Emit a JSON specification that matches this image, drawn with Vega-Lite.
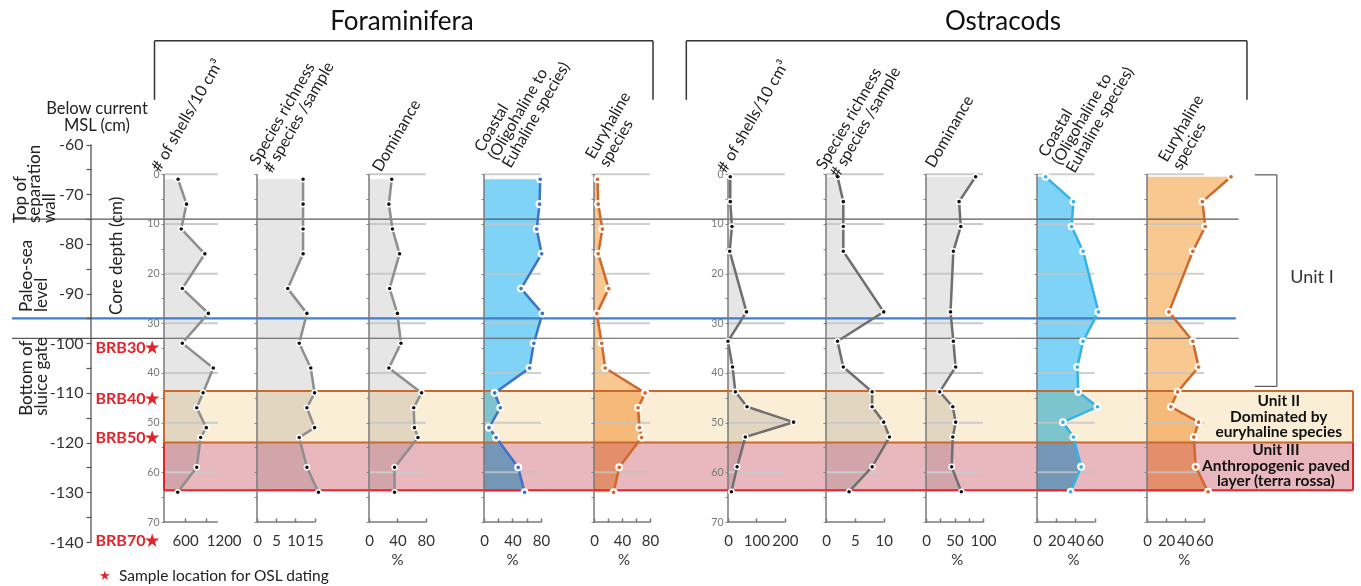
{
  "$schema": "https://vega.github.io/schema/vega-lite/v6.json",
  "padding": {"left": 10, "top": 0, "right": 0, "bottom": 0},
  "spacing": 0,
  "bounds": "flush",
  "background": "white",
  "config": {"view": {"stroke": null}, "font": "Lato"},
  "datasets": {
    "foram": [
      {"depth": 1, "shells": 400, "richness": 12, "dominance": 32, "coastal": 79, "euryhaline": 5},
      {"depth": 6, "shells": 640, "richness": 12, "dominance": 28, "coastal": 78, "euryhaline": 6},
      {"depth": 11, "shells": 490, "richness": 12, "dominance": 33, "coastal": 74, "euryhaline": 12},
      {"depth": 16, "shells": 1160, "richness": 12, "dominance": 43, "coastal": 81, "euryhaline": 6},
      {"depth": 23, "shells": 520, "richness": 8, "dominance": 29, "coastal": 52, "euryhaline": 21},
      {"depth": 28, "shells": 1260, "richness": 13, "dominance": 40, "coastal": 82, "euryhaline": 4},
      {"depth": 34, "shells": 520, "richness": 11, "dominance": 45, "coastal": 70, "euryhaline": 11},
      {"depth": 39, "shells": 1400, "richness": 14, "dominance": 28, "coastal": 64, "euryhaline": 16},
      {"depth": 44, "shells": 1110, "richness": 15, "dominance": 74, "coastal": 15, "euryhaline": 73},
      {"depth": 47, "shells": 930, "richness": 13, "dominance": 63, "coastal": 23, "euryhaline": 63},
      {"depth": 51, "shells": 1200, "richness": 15, "dominance": 64, "coastal": 7, "euryhaline": 65},
      {"depth": 53, "shells": 1040, "richness": 11, "dominance": 69, "coastal": 17, "euryhaline": 68},
      {"depth": 59, "shells": 930, "richness": 13, "dominance": 36, "coastal": 48, "euryhaline": 36},
      {"depth": 64, "shells": 390, "richness": 16, "dominance": 36, "coastal": 57, "euryhaline": 28}
    ],
    "ostracod": [
      {"depth": 0.5, "shells": 8, "richness": 2, "dominance": 87, "coastal": 9, "euryhaline": 88},
      {"depth": 5.5, "shells": 8, "richness": 3, "dominance": 58, "coastal": 38, "euryhaline": 58},
      {"depth": 10.5, "shells": 14, "richness": 3, "dominance": 61, "coastal": 36, "euryhaline": 61},
      {"depth": 15.5, "shells": 6, "richness": 3, "dominance": 48, "coastal": 48, "euryhaline": 48},
      {"depth": 27.7, "shells": 65, "richness": 10, "dominance": 43, "coastal": 64, "euryhaline": 23},
      {"depth": 33.6, "shells": 0, "richness": 2, "dominance": 48, "coastal": 48, "euryhaline": 48},
      {"depth": 38.8, "shells": 16, "richness": 3, "dominance": 52, "coastal": 42, "euryhaline": 54},
      {"depth": 43.8, "shells": 26, "richness": 8, "dominance": 24, "coastal": 43, "euryhaline": 32},
      {"depth": 46.8, "shells": 67, "richness": 8, "dominance": 47, "coastal": 63, "euryhaline": 25},
      {"depth": 49.9, "shells": 231, "richness": 10, "dominance": 52, "coastal": 27, "euryhaline": 54},
      {"depth": 52.9, "shells": 61, "richness": 11, "dominance": 47, "coastal": 38, "euryhaline": 49},
      {"depth": 58.9, "shells": 32, "richness": 8, "dominance": 45, "coastal": 46, "euryhaline": 51},
      {"depth": 63.9, "shells": 12, "richness": 4, "dominance": 62, "coastal": 35, "euryhaline": 64}
    ],
    "grid": [{"g": 0}, {"g": 10}, {"g": 20}, {"g": 30}, {"g": 40}, {"g": 50}, {"g": 60}],
    "levels": [
      {"name": "wall", "msl": -75, "depth": 9},
      {"name": "sea", "msl": -95, "depth": 29},
      {"name": "gate", "msl": -99, "depth": 33}
    ],
    "units": [
      {"unit": "II", "top": 43.6, "bottom": 54.0},
      {"unit": "III", "top": 54.0, "bottom": 63.6}
    ],
    "osl": [
      {"label": "BRB30★", "msl": -101},
      {"label": "BRB40★", "msl": -111.3},
      {"label": "BRB50★", "msl": -119},
      {"label": "BRB70★", "msl": -139.8}
    ]
  },
  "hconcat": [
    {
      "width": 79, "height": 542,
      "layer": [
        {"data": {"name": "levels"}, "mark": {"type": "rule"},
         "encoding": {"y": {"field": "msl", "type": "quantitative", "scale": {"domain": [-140, -30.9], "nice": false, "zero": false}, "axis": null},
           "color": {"condition": {"test": "datum.name === 'sea'", "value": "#3f7fcf"}, "value": "#5a5a5a"},
           "strokeWidth": {"condition": {"test": "datum.name === 'sea'", "value": 2.2}, "value": 1.2}}},
        {"data": {"values": [{}]}, "mark": {"type": "text", "text": "Top of\nseparation\nwall", "lineBreak": "\n", "angle": 270, "align": "left", "baseline": "middle", "fontSize": 17, "lineHeight": 14.5, "color": "#222"},
         "encoding": {"x": {"datum": 0.108, "scale": {"domain": [0, 1]}, "axis": null}, "y": {"datum": -75.8, "axis": null}}},
        {"data": {"values": [{}]}, "mark": {"type": "text", "text": "Paleo-sea\nlevel", "lineBreak": "\n", "angle": 270, "align": "left", "baseline": "middle", "fontSize": 17, "lineHeight": 14.5, "color": "#222"},
         "encoding": {"x": {"datum": 0.196, "axis": null}, "y": {"datum": -93.7, "axis": null}}},
        {"data": {"values": [{}]}, "mark": {"type": "text", "text": "Bottom of\nsluice gate", "lineBreak": "\n", "angle": 270, "align": "left", "baseline": "middle", "fontSize": 17, "lineHeight": 14.5, "color": "#222"},
         "encoding": {"x": {"datum": 0.196, "axis": null}, "y": {"datum": -114.6, "axis": null}}}
      ]
    },
    {
      "width": 73, "height": 542,
      "resolve": {"axis": {"x": "independent", "y": "independent"}},
      "layer": [
        {"data": {"name": "levels"}, "mark": {"type": "rule"},
         "encoding": {"y": {"field": "msl", "type": "quantitative", "scale": {"domain": [-140, -30.9], "nice": false, "zero": false},
             "axis": {"values": [-60, -65, -70, -75, -80, -85, -90, -95, -100, -105, -110, -115, -120, -125, -130, -135, -140], "labelExpr": "datum.value % 10 === 0 ? '' + datum.value : ''", "domain": false, "grid": false, "tickSize": 5, "tickColor": "#555", "tickWidth": 1.2, "labelFontSize": 16, "labelColor": "#333", "labelPadding": 3, "title": null}},
           "color": {"condition": {"test": "datum.name === 'sea'", "value": "#3f7fcf"}, "value": "#5a5a5a"},
           "strokeWidth": {"condition": {"test": "datum.name === 'sea'", "value": 2.2}, "value": 1.2}}},
        {"data": {"values": [{}]}, "mark": {"type": "rule", "color": "#555", "strokeWidth": 1.3},
         "encoding": {"x": {"datum": 0, "scale": {"domain": [0, 1]}, "axis": null}, "y": {"datum": -60, "axis": null}, "y2": {"datum": -140}}},
        {"data": {"values": [{}]}, "mark": {"type": "text", "text": "Below current\nMSL (cm)", "lineBreak": "\n", "align": "center", "baseline": "middle", "fontSize": 16.5, "lineHeight": 17.5, "color": "#222"},
         "encoding": {"x": {"datum": 0.082, "axis": null}, "y": {"datum": -52.8, "axis": null}}},
        {"data": {"values": [{}]}, "mark": {"type": "text", "text": "Core depth (cm)", "angle": 270, "align": "center", "baseline": "middle", "fontSize": 17, "color": "#222"},
         "encoding": {"x": {"datum": 0.356, "axis": null}, "y": {"datum": -82.4, "axis": null}}},
        {"data": {"name": "osl"}, "mark": {"type": "text", "fontSize": 16, "fontWeight": "bold", "color": "#e3232a", "align": "center", "baseline": "middle"},
         "encoding": {"y": {"field": "msl", "type": "quantitative", "axis": null}, "text": {"field": "label", "type": "nominal"}}},
        {"data": {"values": [{}]}, "mark": {"type": "text", "text": "★", "align": "center", "baseline": "middle", "fontSize": 13, "color": "#e3232a"},
         "encoding": {"x": {"datum": 0.19, "axis": null}, "y": {"datum": -146.8, "axis": null}}},
        {"data": {"values": [{}]}, "mark": {"type": "text", "text": "Sample location for OSL dating", "align": "left", "baseline": "middle", "fontSize": 15.5, "color": "#222"},
         "encoding": {"x": {"datum": 0.384, "axis": null}, "y": {"datum": -146.8, "axis": null}}}
      ]
    },
    {
      "width": 93, "height": 522,
      "resolve": {"axis": {"x": "independent", "y": "independent"}},
      "layer": [
        {"data": {"name": "foram"}, "mark": {"type": "area", "orient": "horizontal", "color": "#e6e6e6", "opacity": 1},
         "encoding": {
           "x": {"field": "shells", "type": "quantitative", "stack": null, "scale": {"domain": [0, 2642], "nice": false, "zero": true},
             "axis": {"values": [600, 1200], "format": "d", "labelAlign": {"condition": {"test": "datum.value === 1200", "value": "left"}, "value": "center"}, "domain": false, "grid": false, "tickSize": -4, "tickColor": "#777", "tickWidth": 1.5, "labelPadding": 15, "labelFontSize": 15, "labelColor": "#333", "labelFlush": false, "labelOverlap": false, "title": null}},
           "y": {"field": "depth", "type": "quantitative", "scale": {"domain": [-35.1, 70], "reverse": true, "nice": false, "zero": false},
             "axis": {"values": [0, 5, 10, 15, 20, 25, 30, 35, 40, 45, 50, 55, 60, 65, 70], "labelExpr": "datum.value % 10 === 0 ? datum.label : ''", "labelFontSize": 10.5, "labelColor": "#777", "labelPadding": 2, "domain": false, "grid": false, "tickSize": 3, "tickColor": "#888", "title": null}}}},
        {"data": {"name": "units"}, "mark": {"type": "rect", "blend": "multiply", "opacity": 1},
         "encoding": {"y": {"field": "top", "type": "quantitative", "axis": null}, "y2": {"field": "bottom"}, "fill": {"condition": {"test": "datum.unit === 'II'", "value": "#fbeed6"}, "value": "#e9b7be"}}},
        {"data": {"name": "grid"}, "mark": {"type": "rule", "color": "#cacaca", "strokeWidth": 2},
         "encoding": {"x": {"datum": 0, "axis": null}, "x2": {"datum": 1530}, "y": {"field": "g", "type": "quantitative", "axis": null}}},
        {"data": {"name": "levels"}, "mark": {"type": "rule"},
         "encoding": {"y": {"field": "depth", "type": "quantitative", "axis": null}, "color": {"condition": {"test": "datum.name === 'sea'", "value": "#3f7fcf"}, "value": "#5a5a5a"}, "strokeWidth": {"condition": {"test": "datum.name === 'sea'", "value": 2.2}, "value": 1.2}}},
        {"data": {"values": [{}]}, "mark": {"type": "rule", "color": "#7a7a7a", "strokeWidth": 1.5},
         "encoding": {"x": {"datum": 0, "axis": null}, "y": {"datum": 0, "axis": null}, "y2": {"datum": 70}}},
        {"data": {"values": [{}]}, "mark": {"type": "rule", "color": "#7a7a7a", "strokeWidth": 1.5},
         "encoding": {"x": {"datum": 0, "axis": null}, "x2": {"datum": 1530}, "y": {"datum": 70, "axis": null}}},
        {"data": {"name": "units"}, "mark": {"type": "rule", "strokeWidth": 2},
         "encoding": {"x": {"datum": 0, "axis": null}, "y": {"field": "top", "type": "quantitative", "axis": null}, "y2": {"field": "bottom"}, "color": {"condition": {"test": "datum.unit === 'II'", "value": "#c8692e"}, "value": "#e2252b"}}},
        {"data": {"name": "units"}, "mark": {"type": "rule", "color": "#c8692e", "strokeWidth": 2},
         "encoding": {"y": {"field": "top", "type": "quantitative", "axis": null}}},
        {"data": {"name": "units"}, "transform": [{"filter": "datum.unit === 'III'"}], "mark": {"type": "rule", "color": "#e2252b", "strokeWidth": 2},
         "encoding": {"y": {"field": "bottom", "type": "quantitative", "axis": null}}},
        {"data": {"name": "foram"}, "mark": {"type": "line", "color": "#8e8e8e", "strokeWidth": 2.5},
         "encoding": {"x": {"field": "shells", "type": "quantitative", "axis": null}, "y": {"field": "depth", "type": "quantitative", "axis": null}, "order": {"field": "depth", "type": "quantitative"}}},
        {"data": {"name": "foram"}, "mark": {"type": "circle", "fill": "#111", "stroke": "#ffffff", "strokeWidth": 1.5, "size": 26, "opacity": 1},
         "encoding": {"x": {"field": "shells", "type": "quantitative", "axis": null}, "y": {"field": "depth", "type": "quantitative", "axis": null}}},
        {"data": {"values": [{}]}, "mark": {"type": "text", "text": "# of shells/10 cm³", "angle": 300, "align": "left", "baseline": "alphabetic", "fontSize": 16, "color": "#222"},
         "encoding": {"x": {"datum": -114, "axis": null}, "y": {"datum": -0.3, "axis": null}}},
        {"data": {"values": [{}]}, "mark": {"type": "rule", "color": "#333", "strokeWidth": 1.5},
         "encoding": {"x": {"datum": -270, "axis": null}, "x2": {"datum": 13892}, "y": {"datum": -26.9, "axis": null}}},
        {"data": {"values": [{}]}, "mark": {"type": "rule", "color": "#333", "strokeWidth": 1.5},
         "encoding": {"x": {"datum": -270, "axis": null}, "y": {"datum": -26.9, "axis": null}, "y2": {"datum": -15}}},
        {"data": {"values": [{}]}, "mark": {"type": "rule", "color": "#333", "strokeWidth": 1.5},
         "encoding": {"x": {"datum": 13892, "axis": null}, "y": {"datum": -26.9, "axis": null}, "y2": {"datum": -15}}}
      ]
    },
    {
      "width": 112, "height": 522,
      "resolve": {"axis": {"x": "independent", "y": "independent"}},
      "layer": [
        {"data": {"name": "foram"}, "mark": {"type": "area", "orient": "horizontal", "color": "#e6e6e6", "opacity": 1},
         "encoding": {
           "x": {"field": "richness", "type": "quantitative", "stack": null, "scale": {"domain": [0, 29.17], "nice": false, "zero": true},
             "axis": {"values": [0, 5, 10, 15], "domain": false, "grid": false, "tickSize": -4, "tickColor": "#777", "tickWidth": 1.5, "labelPadding": 15, "labelFontSize": 15, "labelColor": "#333", "labelFlush": false, "labelOverlap": false, "title": null}},
           "y": {"field": "depth", "type": "quantitative", "scale": {"domain": [-35.1, 70], "reverse": true, "nice": false, "zero": false},
             "axis": {"values": [0, 5, 10, 15, 20, 25, 30, 35, 40, 45, 50, 55, 60, 65, 70], "labels": false, "domain": false, "grid": false, "tickSize": 3, "tickColor": "#888", "title": null}}}},
        {"data": {"name": "units"}, "mark": {"type": "rect", "blend": "multiply", "opacity": 1},
         "encoding": {"y": {"field": "top", "type": "quantitative", "axis": null}, "y2": {"field": "bottom"}, "fill": {"condition": {"test": "datum.unit === 'II'", "value": "#fbeed6"}, "value": "#e9b7be"}}},
        {"data": {"name": "levels"}, "mark": {"type": "rule"},
         "encoding": {"y": {"field": "depth", "type": "quantitative", "axis": null}, "color": {"condition": {"test": "datum.name === 'sea'", "value": "#3f7fcf"}, "value": "#5a5a5a"}, "strokeWidth": {"condition": {"test": "datum.name === 'sea'", "value": 2.2}, "value": 1.2}}},
        {"data": {"values": [{}]}, "mark": {"type": "rule", "color": "#7a7a7a", "strokeWidth": 1.5},
         "encoding": {"x": {"datum": 0, "axis": null}, "y": {"datum": 0, "axis": null}, "y2": {"datum": 70}}},
        {"data": {"values": [{}]}, "mark": {"type": "rule", "color": "#7a7a7a", "strokeWidth": 1.5},
         "encoding": {"x": {"datum": 0, "axis": null}, "x2": {"datum": 15}, "y": {"datum": 70, "axis": null}}},
        {"data": {"name": "units"}, "mark": {"type": "rule", "color": "#c8692e", "strokeWidth": 2},
         "encoding": {"y": {"field": "top", "type": "quantitative", "axis": null}}},
        {"data": {"name": "units"}, "transform": [{"filter": "datum.unit === 'III'"}], "mark": {"type": "rule", "color": "#e2252b", "strokeWidth": 2},
         "encoding": {"y": {"field": "bottom", "type": "quantitative", "axis": null}}},
        {"data": {"name": "foram"}, "mark": {"type": "line", "color": "#8e8e8e", "strokeWidth": 2.5},
         "encoding": {"x": {"field": "richness", "type": "quantitative", "axis": null}, "y": {"field": "depth", "type": "quantitative", "axis": null}, "order": {"field": "depth", "type": "quantitative"}}},
        {"data": {"name": "foram"}, "mark": {"type": "circle", "fill": "#111", "stroke": "#ffffff", "strokeWidth": 1.5, "size": 26, "opacity": 1},
         "encoding": {"x": {"field": "richness", "type": "quantitative", "axis": null}, "y": {"field": "depth", "type": "quantitative", "axis": null}}},
        {"data": {"values": [{}]}, "mark": {"type": "text", "text": "Species richness\n# species /sample", "lineBreak": "\n", "lineHeight": 16, "angle": 300, "align": "left", "baseline": "alphabetic", "fontSize": 16, "color": "#222"},
         "encoding": {"x": {"datum": 0.3, "axis": null}, "y": {"datum": -1.7, "axis": null}}}
      ]
    },
    {
      "width": 115, "height": 522,
      "resolve": {"axis": {"x": "independent", "y": "independent"}},
      "layer": [
        {"data": {"name": "foram"}, "mark": {"type": "area", "orient": "horizontal", "color": "#e6e6e6", "opacity": 1},
         "encoding": {
           "x": {"field": "dominance", "type": "quantitative", "stack": null, "scale": {"domain": [0, 161.97], "nice": false, "zero": true},
             "axis": {"values": [0, 40, 80], "domain": false, "grid": false, "tickSize": -4, "tickColor": "#777", "tickWidth": 1.5, "labelPadding": 15, "labelFontSize": 15, "labelColor": "#333", "labelFlush": false, "labelOverlap": false, "title": null}},
           "y": {"field": "depth", "type": "quantitative", "scale": {"domain": [-35.1, 70], "reverse": true, "nice": false, "zero": false},
             "axis": {"values": [0, 5, 10, 15, 20, 25, 30, 35, 40, 45, 50, 55, 60, 65, 70], "labels": false, "domain": false, "grid": false, "tickSize": 3, "tickColor": "#888", "title": null}}}},
        {"data": {"name": "units"}, "mark": {"type": "rect", "blend": "multiply", "opacity": 1},
         "encoding": {"y": {"field": "top", "type": "quantitative", "axis": null}, "y2": {"field": "bottom"}, "fill": {"condition": {"test": "datum.unit === 'II'", "value": "#fbeed6"}, "value": "#e9b7be"}}},
        {"data": {"name": "grid"}, "mark": {"type": "rule", "color": "#cacaca", "strokeWidth": 2},
         "encoding": {"x": {"datum": 0, "axis": null}, "x2": {"datum": 80}, "y": {"field": "g", "type": "quantitative", "axis": null}}},
        {"data": {"name": "levels"}, "mark": {"type": "rule"},
         "encoding": {"y": {"field": "depth", "type": "quantitative", "axis": null}, "color": {"condition": {"test": "datum.name === 'sea'", "value": "#3f7fcf"}, "value": "#5a5a5a"}, "strokeWidth": {"condition": {"test": "datum.name === 'sea'", "value": 2.2}, "value": 1.2}}},
        {"data": {"values": [{}]}, "mark": {"type": "rule", "color": "#7a7a7a", "strokeWidth": 1.5},
         "encoding": {"x": {"datum": 0, "axis": null}, "y": {"datum": 0, "axis": null}, "y2": {"datum": 70}}},
        {"data": {"values": [{}]}, "mark": {"type": "rule", "color": "#7a7a7a", "strokeWidth": 1.5},
         "encoding": {"x": {"datum": 0, "axis": null}, "x2": {"datum": 80}, "y": {"datum": 70, "axis": null}}},
        {"data": {"name": "units"}, "mark": {"type": "rule", "color": "#c8692e", "strokeWidth": 2},
         "encoding": {"y": {"field": "top", "type": "quantitative", "axis": null}}},
        {"data": {"name": "units"}, "transform": [{"filter": "datum.unit === 'III'"}], "mark": {"type": "rule", "color": "#e2252b", "strokeWidth": 2},
         "encoding": {"y": {"field": "bottom", "type": "quantitative", "axis": null}}},
        {"data": {"name": "foram"}, "mark": {"type": "line", "color": "#8e8e8e", "strokeWidth": 2.5},
         "encoding": {"x": {"field": "dominance", "type": "quantitative", "axis": null}, "y": {"field": "depth", "type": "quantitative", "axis": null}, "order": {"field": "depth", "type": "quantitative"}}},
        {"data": {"name": "foram"}, "mark": {"type": "circle", "fill": "#111", "stroke": "#ffffff", "strokeWidth": 1.5, "size": 26, "opacity": 1},
         "encoding": {"x": {"field": "dominance", "type": "quantitative", "axis": null}, "y": {"field": "depth", "type": "quantitative", "axis": null}}},
        {"data": {"values": [{}]}, "mark": {"type": "text", "text": "Dominance", "angle": 300, "align": "left", "baseline": "alphabetic", "fontSize": 16, "color": "#222"},
         "encoding": {"x": {"datum": 16.9, "axis": null}, "y": {"datum": -0.3, "axis": null}}},
        {"data": {"values": [{}]}, "mark": {"type": "text", "text": "%", "align": "center", "baseline": "middle", "fontSize": 15, "color": "#333"},
         "encoding": {"x": {"datum": 40, "axis": null}, "y": {"datum": 77.7, "axis": null}}},
        {"data": {"values": [{}]}, "mark": {"type": "text", "text": "Foraminifera", "align": "center", "baseline": "middle", "fontSize": 26, "color": "#111"},
         "encoding": {"x": {"datum": 46.5, "axis": null}, "y": {"datum": -30.7, "axis": null}}}
      ]
    },
    {
      "width": 110, "height": 522,
      "resolve": {"axis": {"x": "independent", "y": "independent"}},
      "layer": [
        {"data": {"name": "foram"}, "mark": {"type": "area", "orient": "horizontal", "color": "#7fd3f6", "opacity": 1},
         "encoding": {
           "x": {"field": "coastal", "type": "quantitative", "stack": null, "scale": {"domain": [0, 154.5], "nice": false, "zero": true},
             "axis": {"values": [0, 20, 40, 60, 80], "labelExpr": "datum.value % 40 === 0 ? datum.label : ''", "domain": false, "grid": false, "tickSize": -4, "tickColor": "#777", "tickWidth": 1.5, "labelPadding": 15, "labelFontSize": 15, "labelColor": "#333", "labelFlush": false, "labelOverlap": false, "title": null}},
           "y": {"field": "depth", "type": "quantitative", "scale": {"domain": [-35.1, 70], "reverse": true, "nice": false, "zero": false},
             "axis": {"values": [0, 5, 10, 15, 20, 25, 30, 35, 40, 45, 50, 55, 60, 65, 70], "labels": false, "domain": false, "grid": false, "tickSize": 3, "tickColor": "#888", "title": null}}}},
        {"data": {"name": "units"}, "mark": {"type": "rect", "blend": "multiply", "opacity": 1},
         "encoding": {"y": {"field": "top", "type": "quantitative", "axis": null}, "y2": {"field": "bottom"}, "fill": {"condition": {"test": "datum.unit === 'II'", "value": "#fbeed6"}, "value": "#e9b7be"}}},
        {"data": {"name": "grid"}, "mark": {"type": "rule", "color": "#c4c4c4", "strokeWidth": 2, "opacity": 0.8},
         "encoding": {"x": {"datum": 0, "axis": null}, "x2": {"datum": 80}, "y": {"field": "g", "type": "quantitative", "axis": null}}},
        {"data": {"name": "levels"}, "mark": {"type": "rule"},
         "encoding": {"y": {"field": "depth", "type": "quantitative", "axis": null}, "color": {"condition": {"test": "datum.name === 'sea'", "value": "#3f7fcf"}, "value": "#5a5a5a"}, "strokeWidth": {"condition": {"test": "datum.name === 'sea'", "value": 2.2}, "value": 1.2}}},
        {"data": {"values": [{}]}, "mark": {"type": "rule", "color": "#7a7a7a", "strokeWidth": 1.5},
         "encoding": {"x": {"datum": 0, "axis": null}, "y": {"datum": 0, "axis": null}, "y2": {"datum": 70}}},
        {"data": {"values": [{}]}, "mark": {"type": "rule", "color": "#7a7a7a", "strokeWidth": 1.5},
         "encoding": {"x": {"datum": 0, "axis": null}, "x2": {"datum": 80}, "y": {"datum": 70, "axis": null}}},
        {"data": {"name": "units"}, "mark": {"type": "rule", "color": "#c8692e", "strokeWidth": 2},
         "encoding": {"y": {"field": "top", "type": "quantitative", "axis": null}}},
        {"data": {"name": "units"}, "transform": [{"filter": "datum.unit === 'III'"}], "mark": {"type": "rule", "color": "#e2252b", "strokeWidth": 2},
         "encoding": {"y": {"field": "bottom", "type": "quantitative", "axis": null}}},
        {"data": {"name": "foram"}, "mark": {"type": "line", "color": "#3b74c9", "strokeWidth": 2.5},
         "encoding": {"x": {"field": "coastal", "type": "quantitative", "axis": null}, "y": {"field": "depth", "type": "quantitative", "axis": null}, "order": {"field": "depth", "type": "quantitative"}}},
        {"data": {"name": "foram"}, "mark": {"type": "circle", "fill": "#3b74c9", "stroke": "#ffffff", "strokeWidth": 2.2, "size": 34, "opacity": 1},
         "encoding": {"x": {"field": "coastal", "type": "quantitative", "axis": null}, "y": {"field": "depth", "type": "quantitative", "axis": null}}},
        {"data": {"values": [{}]}, "mark": {"type": "text", "text": "Coastal\n(Oligohaline to\nEuhaline species)", "lineBreak": "\n", "lineHeight": 16, "angle": 300, "align": "left", "baseline": "alphabetic", "fontSize": 16, "color": "#222"},
         "encoding": {"x": {"datum": -1.4, "axis": null}, "y": {"datum": -4.3, "axis": null}}},
        {"data": {"values": [{}]}, "mark": {"type": "text", "text": "%", "align": "center", "baseline": "middle", "fontSize": 15, "color": "#333"},
         "encoding": {"x": {"datum": 40, "axis": null}, "y": {"datum": 77.7, "axis": null}}}
      ]
    },
    {
      "width": 134, "height": 522,
      "resolve": {"axis": {"x": "independent", "y": "independent"}},
      "layer": [
        {"data": {"name": "foram"}, "mark": {"type": "area", "orient": "horizontal", "color": "#f9c890", "opacity": 1},
         "encoding": {
           "x": {"field": "euryhaline", "type": "quantitative", "stack": null, "scale": {"domain": [0, 191.4], "nice": false, "zero": true},
             "axis": {"values": [0, 20, 40, 60, 80], "labelExpr": "datum.value % 40 === 0 ? datum.label : ''", "domain": false, "grid": false, "tickSize": -4, "tickColor": "#777", "tickWidth": 1.5, "labelPadding": 15, "labelFontSize": 15, "labelColor": "#333", "labelFlush": false, "labelOverlap": false, "title": null}},
           "y": {"field": "depth", "type": "quantitative", "scale": {"domain": [-35.1, 70], "reverse": true, "nice": false, "zero": false},
             "axis": {"values": [0, 5, 10, 15, 20, 25, 30, 35, 40, 45, 50, 55, 60, 65, 70], "labels": false, "domain": false, "grid": false, "tickSize": 3, "tickColor": "#888", "title": null}}}},
        {"data": {"name": "units"}, "mark": {"type": "rect", "blend": "multiply", "opacity": 1},
         "encoding": {"y": {"field": "top", "type": "quantitative", "axis": null}, "y2": {"field": "bottom"}, "fill": {"condition": {"test": "datum.unit === 'II'", "value": "#fbeed6"}, "value": "#e9b7be"}}},
        {"data": {"name": "grid"}, "mark": {"type": "rule", "color": "#c4c4c4", "strokeWidth": 2, "opacity": 0.8},
         "encoding": {"x": {"datum": 0, "axis": null}, "x2": {"datum": 80}, "y": {"field": "g", "type": "quantitative", "axis": null}}},
        {"data": {"name": "levels"}, "mark": {"type": "rule"},
         "encoding": {"y": {"field": "depth", "type": "quantitative", "axis": null}, "color": {"condition": {"test": "datum.name === 'sea'", "value": "#3f7fcf"}, "value": "#5a5a5a"}, "strokeWidth": {"condition": {"test": "datum.name === 'sea'", "value": 2.2}, "value": 1.2}}},
        {"data": {"values": [{}]}, "mark": {"type": "rule", "color": "#7a7a7a", "strokeWidth": 1.5},
         "encoding": {"x": {"datum": 0, "axis": null}, "y": {"datum": 0, "axis": null}, "y2": {"datum": 70}}},
        {"data": {"values": [{}]}, "mark": {"type": "rule", "color": "#7a7a7a", "strokeWidth": 1.5},
         "encoding": {"x": {"datum": 0, "axis": null}, "x2": {"datum": 80}, "y": {"datum": 70, "axis": null}}},
        {"data": {"name": "units"}, "mark": {"type": "rule", "color": "#c8692e", "strokeWidth": 2},
         "encoding": {"y": {"field": "top", "type": "quantitative", "axis": null}}},
        {"data": {"name": "units"}, "transform": [{"filter": "datum.unit === 'III'"}], "mark": {"type": "rule", "color": "#e2252b", "strokeWidth": 2},
         "encoding": {"y": {"field": "bottom", "type": "quantitative", "axis": null}}},
        {"data": {"name": "foram"}, "mark": {"type": "line", "color": "#d0692b", "strokeWidth": 2.5},
         "encoding": {"x": {"field": "euryhaline", "type": "quantitative", "axis": null}, "y": {"field": "depth", "type": "quantitative", "axis": null}, "order": {"field": "depth", "type": "quantitative"}}},
        {"data": {"name": "foram"}, "mark": {"type": "circle", "fill": "#d0692b", "stroke": "#ffffff", "strokeWidth": 2.2, "size": 34, "opacity": 1},
         "encoding": {"x": {"field": "euryhaline", "type": "quantitative", "axis": null}, "y": {"field": "depth", "type": "quantitative", "axis": null}}},
        {"data": {"values": [{}]}, "mark": {"type": "text", "text": "Euryhaline\nspecies", "lineBreak": "\n", "lineHeight": 16, "angle": 300, "align": "left", "baseline": "alphabetic", "fontSize": 16, "color": "#222"},
         "encoding": {"x": {"datum": 0, "axis": null}, "y": {"datum": -2.9, "axis": null}}},
        {"data": {"values": [{}]}, "mark": {"type": "text", "text": "%", "align": "center", "baseline": "middle", "fontSize": 15, "color": "#333"},
         "encoding": {"x": {"datum": 43, "axis": null}, "y": {"datum": 77.7, "axis": null}}}
      ]
    },
    {
      "width": 98, "height": 522,
      "resolve": {"axis": {"x": "independent", "y": "independent"}},
      "layer": [
        {"data": {"name": "ostracod"}, "mark": {"type": "area", "orient": "horizontal", "color": "#e6e6e6", "opacity": 1},
         "encoding": {
           "x": {"field": "shells", "type": "quantitative", "stack": null, "scale": {"domain": [0, 345.1], "nice": false, "zero": true},
             "axis": {"values": [0, 100, 200], "domain": false, "grid": false, "tickSize": -4, "tickColor": "#777", "tickWidth": 1.5, "labelPadding": 15, "labelFontSize": 15, "labelColor": "#333", "labelFlush": false, "labelOverlap": false, "title": null}},
           "y": {"field": "depth", "type": "quantitative", "scale": {"domain": [-35.1, 70], "reverse": true, "nice": false, "zero": false},
             "axis": {"values": [0, 5, 10, 15, 20, 25, 30, 35, 40, 45, 50, 55, 60, 65, 70], "labelExpr": "datum.value % 10 === 0 ? datum.label : ''", "labelFontSize": 10.5, "labelColor": "#777", "labelPadding": 2, "domain": false, "grid": false, "tickSize": 3, "tickColor": "#888", "title": null}}}},
        {"data": {"name": "units"}, "mark": {"type": "rect", "blend": "multiply", "opacity": 1},
         "encoding": {"y": {"field": "top", "type": "quantitative", "axis": null}, "y2": {"field": "bottom"}, "fill": {"condition": {"test": "datum.unit === 'II'", "value": "#fbeed6"}, "value": "#e9b7be"}}},
        {"data": {"name": "grid"}, "mark": {"type": "rule", "color": "#cacaca", "strokeWidth": 2},
         "encoding": {"x": {"datum": 0, "axis": null}, "x2": {"datum": 200}, "y": {"field": "g", "type": "quantitative", "axis": null}}},
        {"data": {"name": "levels"}, "mark": {"type": "rule"},
         "encoding": {"y": {"field": "depth", "type": "quantitative", "axis": null}, "color": {"condition": {"test": "datum.name === 'sea'", "value": "#3f7fcf"}, "value": "#5a5a5a"}, "strokeWidth": {"condition": {"test": "datum.name === 'sea'", "value": 2.2}, "value": 1.2}}},
        {"data": {"values": [{}]}, "mark": {"type": "rule", "color": "#7a7a7a", "strokeWidth": 1.5},
         "encoding": {"x": {"datum": 0, "axis": null}, "y": {"datum": 0, "axis": null}, "y2": {"datum": 70}}},
        {"data": {"values": [{}]}, "mark": {"type": "rule", "color": "#7a7a7a", "strokeWidth": 1.5},
         "encoding": {"x": {"datum": 0, "axis": null}, "x2": {"datum": 200}, "y": {"datum": 70, "axis": null}}},
        {"data": {"name": "units"}, "mark": {"type": "rule", "color": "#c8692e", "strokeWidth": 2},
         "encoding": {"y": {"field": "top", "type": "quantitative", "axis": null}}},
        {"data": {"name": "units"}, "transform": [{"filter": "datum.unit === 'III'"}], "mark": {"type": "rule", "color": "#e2252b", "strokeWidth": 2},
         "encoding": {"y": {"field": "bottom", "type": "quantitative", "axis": null}}},
        {"data": {"name": "ostracod"}, "mark": {"type": "line", "color": "#6f6f6f", "strokeWidth": 2.5},
         "encoding": {"x": {"field": "shells", "type": "quantitative", "axis": null}, "y": {"field": "depth", "type": "quantitative", "axis": null}, "order": {"field": "depth", "type": "quantitative"}}},
        {"data": {"name": "ostracod"}, "mark": {"type": "circle", "fill": "#111", "stroke": "#ffffff", "strokeWidth": 1.5, "size": 26, "opacity": 1},
         "encoding": {"x": {"field": "shells", "type": "quantitative", "axis": null}, "y": {"field": "depth", "type": "quantitative", "axis": null}}},
        {"data": {"values": [{}]}, "mark": {"type": "text", "text": "# of shells/10 cm³", "angle": 300, "align": "left", "baseline": "alphabetic", "fontSize": 16, "color": "#222"},
         "encoding": {"x": {"datum": -7, "axis": null}, "y": {"datum": -0.1, "axis": null}}},
        {"data": {"values": [{}]}, "mark": {"type": "rule", "color": "#333", "strokeWidth": 1.5},
         "encoding": {"x": {"datum": -146.8, "axis": null}, "x2": {"datum": 1827.5}, "y": {"datum": -26.9, "axis": null}}},
        {"data": {"values": [{}]}, "mark": {"type": "rule", "color": "#333", "strokeWidth": 1.5},
         "encoding": {"x": {"datum": -146.8, "axis": null}, "y": {"datum": -26.9, "axis": null}, "y2": {"datum": -15}}},
        {"data": {"values": [{}]}, "mark": {"type": "rule", "color": "#333", "strokeWidth": 1.5},
         "encoding": {"x": {"datum": 1827.5, "axis": null}, "y": {"datum": -26.9, "axis": null}, "y2": {"datum": -15}}}
      ]
    },
    {
      "width": 100, "height": 522,
      "resolve": {"axis": {"x": "independent", "y": "independent"}},
      "layer": [
        {"data": {"name": "ostracod"}, "mark": {"type": "area", "orient": "horizontal", "color": "#e6e6e6", "opacity": 1},
         "encoding": {
           "x": {"field": "richness", "type": "quantitative", "stack": null, "scale": {"domain": [0, 17.33], "nice": false, "zero": true},
             "axis": {"values": [0, 5, 10], "domain": false, "grid": false, "tickSize": -4, "tickColor": "#777", "tickWidth": 1.5, "labelPadding": 15, "labelFontSize": 15, "labelColor": "#333", "labelFlush": false, "labelOverlap": false, "title": null}},
           "y": {"field": "depth", "type": "quantitative", "scale": {"domain": [-35.1, 70], "reverse": true, "nice": false, "zero": false},
             "axis": {"values": [0, 5, 10, 15, 20, 25, 30, 35, 40, 45, 50, 55, 60, 65, 70], "labels": false, "domain": false, "grid": false, "tickSize": 3, "tickColor": "#888", "title": null}}}},
        {"data": {"name": "units"}, "mark": {"type": "rect", "blend": "multiply", "opacity": 1},
         "encoding": {"y": {"field": "top", "type": "quantitative", "axis": null}, "y2": {"field": "bottom"}, "fill": {"condition": {"test": "datum.unit === 'II'", "value": "#fbeed6"}, "value": "#e9b7be"}}},
        {"data": {"name": "grid"}, "mark": {"type": "rule", "color": "#cacaca", "strokeWidth": 2},
         "encoding": {"x": {"datum": 0, "axis": null}, "x2": {"datum": 10}, "y": {"field": "g", "type": "quantitative", "axis": null}}},
        {"data": {"name": "levels"}, "mark": {"type": "rule"},
         "encoding": {"y": {"field": "depth", "type": "quantitative", "axis": null}, "color": {"condition": {"test": "datum.name === 'sea'", "value": "#3f7fcf"}, "value": "#5a5a5a"}, "strokeWidth": {"condition": {"test": "datum.name === 'sea'", "value": 2.2}, "value": 1.2}}},
        {"data": {"values": [{}]}, "mark": {"type": "rule", "color": "#7a7a7a", "strokeWidth": 1.5},
         "encoding": {"x": {"datum": 0, "axis": null}, "y": {"datum": 0, "axis": null}, "y2": {"datum": 70}}},
        {"data": {"values": [{}]}, "mark": {"type": "rule", "color": "#7a7a7a", "strokeWidth": 1.5},
         "encoding": {"x": {"datum": 0, "axis": null}, "x2": {"datum": 10}, "y": {"datum": 70, "axis": null}}},
        {"data": {"name": "units"}, "mark": {"type": "rule", "color": "#c8692e", "strokeWidth": 2},
         "encoding": {"y": {"field": "top", "type": "quantitative", "axis": null}}},
        {"data": {"name": "units"}, "transform": [{"filter": "datum.unit === 'III'"}], "mark": {"type": "rule", "color": "#e2252b", "strokeWidth": 2},
         "encoding": {"y": {"field": "bottom", "type": "quantitative", "axis": null}}},
        {"data": {"name": "ostracod"}, "mark": {"type": "line", "color": "#6f6f6f", "strokeWidth": 2.5},
         "encoding": {"x": {"field": "richness", "type": "quantitative", "axis": null}, "y": {"field": "depth", "type": "quantitative", "axis": null}, "order": {"field": "depth", "type": "quantitative"}}},
        {"data": {"name": "ostracod"}, "mark": {"type": "circle", "fill": "#111", "stroke": "#ffffff", "strokeWidth": 1.5, "size": 26, "opacity": 1},
         "encoding": {"x": {"field": "richness", "type": "quantitative", "axis": null}, "y": {"field": "depth", "type": "quantitative", "axis": null}}},
        {"data": {"values": [{}]}, "mark": {"type": "text", "text": "Species richness\n# species /sample", "lineBreak": "\n", "lineHeight": 16, "angle": 300, "align": "left", "baseline": "alphabetic", "fontSize": 16, "color": "#222"},
         "encoding": {"x": {"datum": -0.2, "axis": null}, "y": {"datum": -0.7, "axis": null}}}
      ]
    },
    {
      "width": 111, "height": 522,
      "resolve": {"axis": {"x": "independent", "y": "independent"}},
      "layer": [
        {"data": {"name": "ostracod"}, "mark": {"type": "area", "orient": "horizontal", "color": "#e6e6e6", "opacity": 1},
         "encoding": {
           "x": {"field": "dominance", "type": "quantitative", "stack": null, "scale": {"domain": [0, 194.7], "nice": false, "zero": true},
             "axis": {"values": [0, 25, 50, 75, 100], "labelExpr": "datum.value % 50 === 0 ? datum.label : ''", "domain": false, "grid": false, "tickSize": -4, "tickColor": "#777", "tickWidth": 1.5, "labelPadding": 15, "labelFontSize": 15, "labelColor": "#333", "labelFlush": false, "labelOverlap": false, "title": null}},
           "y": {"field": "depth", "type": "quantitative", "scale": {"domain": [-35.1, 70], "reverse": true, "nice": false, "zero": false},
             "axis": {"values": [0, 5, 10, 15, 20, 25, 30, 35, 40, 45, 50, 55, 60, 65, 70], "labels": false, "domain": false, "grid": false, "tickSize": 3, "tickColor": "#888", "title": null}}}},
        {"data": {"name": "units"}, "mark": {"type": "rect", "blend": "multiply", "opacity": 1},
         "encoding": {"y": {"field": "top", "type": "quantitative", "axis": null}, "y2": {"field": "bottom"}, "fill": {"condition": {"test": "datum.unit === 'II'", "value": "#fbeed6"}, "value": "#e9b7be"}}},
        {"data": {"name": "grid"}, "mark": {"type": "rule", "color": "#cacaca", "strokeWidth": 2},
         "encoding": {"x": {"datum": 0, "axis": null}, "x2": {"datum": 100}, "y": {"field": "g", "type": "quantitative", "axis": null}}},
        {"data": {"name": "levels"}, "mark": {"type": "rule"},
         "encoding": {"y": {"field": "depth", "type": "quantitative", "axis": null}, "color": {"condition": {"test": "datum.name === 'sea'", "value": "#3f7fcf"}, "value": "#5a5a5a"}, "strokeWidth": {"condition": {"test": "datum.name === 'sea'", "value": 2.2}, "value": 1.2}}},
        {"data": {"values": [{}]}, "mark": {"type": "rule", "color": "#7a7a7a", "strokeWidth": 1.5},
         "encoding": {"x": {"datum": 0, "axis": null}, "y": {"datum": 0, "axis": null}, "y2": {"datum": 70}}},
        {"data": {"values": [{}]}, "mark": {"type": "rule", "color": "#7a7a7a", "strokeWidth": 1.5},
         "encoding": {"x": {"datum": 0, "axis": null}, "x2": {"datum": 100}, "y": {"datum": 70, "axis": null}}},
        {"data": {"name": "units"}, "mark": {"type": "rule", "color": "#c8692e", "strokeWidth": 2},
         "encoding": {"y": {"field": "top", "type": "quantitative", "axis": null}}},
        {"data": {"name": "units"}, "transform": [{"filter": "datum.unit === 'III'"}], "mark": {"type": "rule", "color": "#e2252b", "strokeWidth": 2},
         "encoding": {"y": {"field": "bottom", "type": "quantitative", "axis": null}}},
        {"data": {"name": "ostracod"}, "mark": {"type": "line", "color": "#6f6f6f", "strokeWidth": 2.5},
         "encoding": {"x": {"field": "dominance", "type": "quantitative", "axis": null}, "y": {"field": "depth", "type": "quantitative", "axis": null}, "order": {"field": "depth", "type": "quantitative"}}},
        {"data": {"name": "ostracod"}, "mark": {"type": "circle", "fill": "#111", "stroke": "#ffffff", "strokeWidth": 1.5, "size": 26, "opacity": 1},
         "encoding": {"x": {"field": "dominance", "type": "quantitative", "axis": null}, "y": {"field": "depth", "type": "quantitative", "axis": null}}},
        {"data": {"values": [{}]}, "mark": {"type": "text", "text": "Dominance", "angle": 300, "align": "left", "baseline": "alphabetic", "fontSize": 16, "color": "#222"},
         "encoding": {"x": {"datum": 14, "axis": null}, "y": {"datum": -1.1, "axis": null}}},
        {"data": {"values": [{}]}, "mark": {"type": "text", "text": "%", "align": "center", "baseline": "middle", "fontSize": 15, "color": "#333"},
         "encoding": {"x": {"datum": 55, "axis": null}, "y": {"datum": 77.7, "axis": null}}},
        {"data": {"values": [{}]}, "mark": {"type": "text", "text": "Ostracods", "align": "center", "baseline": "middle", "fontSize": 26, "color": "#111"},
         "encoding": {"x": {"datum": 135, "axis": null}, "y": {"datum": -30.7, "axis": null}}}
      ]
    },
    {
      "width": 110, "height": 522,
      "resolve": {"axis": {"x": "independent", "y": "independent"}},
      "layer": [
        {"data": {"name": "ostracod"}, "mark": {"type": "area", "orient": "horizontal", "color": "#7fd3f6", "opacity": 1},
         "encoding": {
           "x": {"field": "coastal", "type": "quantitative", "stack": null, "scale": {"domain": [0, 114.6], "nice": false, "zero": true},
             "axis": {"values": [0, 20, 40, 60], "domain": false, "grid": false, "tickSize": -4, "tickColor": "#777", "tickWidth": 1.5, "labelPadding": 15, "labelFontSize": 15, "labelColor": "#333", "labelFlush": false, "labelOverlap": false, "title": null}},
           "y": {"field": "depth", "type": "quantitative", "scale": {"domain": [-35.1, 70], "reverse": true, "nice": false, "zero": false},
             "axis": {"values": [0, 5, 10, 15, 20, 25, 30, 35, 40, 45, 50, 55, 60, 65, 70], "labels": false, "domain": false, "grid": false, "tickSize": 3, "tickColor": "#888", "title": null}}}},
        {"data": {"name": "units"}, "mark": {"type": "rect", "blend": "multiply", "opacity": 1},
         "encoding": {"y": {"field": "top", "type": "quantitative", "axis": null}, "y2": {"field": "bottom"}, "fill": {"condition": {"test": "datum.unit === 'II'", "value": "#fbeed6"}, "value": "#e9b7be"}}},
        {"data": {"name": "grid"}, "mark": {"type": "rule", "color": "#c4c4c4", "strokeWidth": 2, "opacity": 0.8},
         "encoding": {"x": {"datum": 0, "axis": null}, "x2": {"datum": 60}, "y": {"field": "g", "type": "quantitative", "axis": null}}},
        {"data": {"name": "levels"}, "mark": {"type": "rule"},
         "encoding": {"y": {"field": "depth", "type": "quantitative", "axis": null}, "color": {"condition": {"test": "datum.name === 'sea'", "value": "#3f7fcf"}, "value": "#5a5a5a"}, "strokeWidth": {"condition": {"test": "datum.name === 'sea'", "value": 2.2}, "value": 1.2}}},
        {"data": {"values": [{}]}, "mark": {"type": "rule", "color": "#7a7a7a", "strokeWidth": 1.5},
         "encoding": {"x": {"datum": 0, "axis": null}, "y": {"datum": 0, "axis": null}, "y2": {"datum": 70}}},
        {"data": {"values": [{}]}, "mark": {"type": "rule", "color": "#7a7a7a", "strokeWidth": 1.5},
         "encoding": {"x": {"datum": 0, "axis": null}, "x2": {"datum": 60}, "y": {"datum": 70, "axis": null}}},
        {"data": {"name": "units"}, "mark": {"type": "rule", "color": "#c8692e", "strokeWidth": 2},
         "encoding": {"y": {"field": "top", "type": "quantitative", "axis": null}}},
        {"data": {"name": "units"}, "transform": [{"filter": "datum.unit === 'III'"}], "mark": {"type": "rule", "color": "#e2252b", "strokeWidth": 2},
         "encoding": {"y": {"field": "bottom", "type": "quantitative", "axis": null}}},
        {"data": {"name": "ostracod"}, "mark": {"type": "line", "color": "#33b3e8", "strokeWidth": 2.5},
         "encoding": {"x": {"field": "coastal", "type": "quantitative", "axis": null}, "y": {"field": "depth", "type": "quantitative", "axis": null}, "order": {"field": "depth", "type": "quantitative"}}},
        {"data": {"name": "ostracod"}, "mark": {"type": "circle", "fill": "#33b3e8", "stroke": "#ffffff", "strokeWidth": 2.2, "size": 34, "opacity": 1},
         "encoding": {"x": {"field": "coastal", "type": "quantitative", "axis": null}, "y": {"field": "depth", "type": "quantitative", "axis": null}}},
        {"data": {"values": [{}]}, "mark": {"type": "text", "text": "Coastal\n(Oligohaline to\nEuhaline species)", "lineBreak": "\n", "lineHeight": 16, "angle": 300, "align": "left", "baseline": "alphabetic", "fontSize": 16, "color": "#222"},
         "encoding": {"x": {"datum": 10.4, "axis": null}, "y": {"datum": -3.3, "axis": null}}},
        {"data": {"values": [{}]}, "mark": {"type": "text", "text": "%", "align": "center", "baseline": "middle", "fontSize": 15, "color": "#333"},
         "encoding": {"x": {"datum": 38, "axis": null}, "y": {"datum": 77.7, "axis": null}}}
      ]
    },
    {
      "width": 216, "height": 522,
      "resolve": {"axis": {"x": "independent", "y": "independent"}},
      "layer": [
        {"data": {"name": "ostracod"}, "mark": {"type": "area", "orient": "horizontal", "color": "#f9c890", "opacity": 1},
         "encoding": {
           "x": {"field": "euryhaline", "type": "quantitative", "stack": null, "scale": {"domain": [0, 226.2], "nice": false, "zero": true},
             "axis": {"values": [0, 20, 40, 60], "domain": false, "grid": false, "tickSize": -4, "tickColor": "#777", "tickWidth": 1.5, "labelPadding": 15, "labelFontSize": 15, "labelColor": "#333", "labelFlush": false, "labelOverlap": false, "title": null}},
           "y": {"field": "depth", "type": "quantitative", "scale": {"domain": [-35.1, 70], "reverse": true, "nice": false, "zero": false},
             "axis": {"values": [0, 5, 10, 15, 20, 25, 30, 35, 40, 45, 50, 55, 60, 65, 70], "labels": false, "domain": false, "grid": false, "tickSize": 3, "tickColor": "#888", "title": null}}}},
        {"data": {"name": "units"}, "mark": {"type": "rect", "blend": "multiply", "opacity": 1},
         "encoding": {"x": {"datum": 0, "axis": null}, "x2": {"datum": 215.7}, "y": {"field": "top", "type": "quantitative", "axis": null}, "y2": {"field": "bottom"}, "fill": {"condition": {"test": "datum.unit === 'II'", "value": "#fbeed6"}, "value": "#e9b7be"}}},
        {"data": {"name": "grid"}, "mark": {"type": "rule", "color": "#c4c4c4", "strokeWidth": 2, "opacity": 0.8},
         "encoding": {"x": {"datum": 0, "axis": null}, "x2": {"datum": 60}, "y": {"field": "g", "type": "quantitative", "axis": null}}},
        {"data": {"name": "levels"}, "transform": [{"filter": "datum.name !== 'sea'"}], "mark": {"type": "rule", "color": "#5a5a5a", "strokeWidth": 1.2},
         "encoding": {"x": {"datum": 0, "axis": null}, "x2": {"datum": 96}, "y": {"field": "depth", "type": "quantitative", "axis": null}}},
        {"data": {"name": "levels"}, "transform": [{"filter": "datum.name === 'sea'"}], "mark": {"type": "rule", "color": "#3f7fcf", "strokeWidth": 2.2},
         "encoding": {"x": {"datum": 0, "axis": null}, "x2": {"datum": 93}, "y": {"field": "depth", "type": "quantitative", "axis": null}}},
        {"data": {"values": [{}]}, "mark": {"type": "rule", "color": "#7a7a7a", "strokeWidth": 1.5},
         "encoding": {"x": {"datum": 0, "axis": null}, "y": {"datum": 0, "axis": null}, "y2": {"datum": 70}}},
        {"data": {"values": [{}]}, "mark": {"type": "rule", "color": "#7a7a7a", "strokeWidth": 1.5},
         "encoding": {"x": {"datum": 0, "axis": null}, "x2": {"datum": 60}, "y": {"datum": 70, "axis": null}}},
        {"data": {"name": "units"}, "mark": {"type": "rule", "color": "#c8692e", "strokeWidth": 2},
         "encoding": {"x": {"datum": 0, "axis": null}, "x2": {"datum": 215.7}, "y": {"field": "top", "type": "quantitative", "axis": null}}},
        {"data": {"name": "units"}, "transform": [{"filter": "datum.unit === 'III'"}], "mark": {"type": "rule", "color": "#e2252b", "strokeWidth": 2},
         "encoding": {"x": {"datum": 0, "axis": null}, "x2": {"datum": 215.7}, "y": {"field": "bottom", "type": "quantitative", "axis": null}}},
        {"data": {"name": "units"}, "mark": {"type": "rule", "strokeWidth": 2},
         "encoding": {"x": {"datum": 215.7, "axis": null}, "y": {"field": "top", "type": "quantitative", "axis": null}, "y2": {"field": "bottom"}, "color": {"condition": {"test": "datum.unit === 'II'", "value": "#c8692e"}, "value": "#e2252b"}}},
        {"data": {"name": "ostracod"}, "mark": {"type": "line", "color": "#d0692b", "strokeWidth": 2.5},
         "encoding": {"x": {"field": "euryhaline", "type": "quantitative", "axis": null}, "y": {"field": "depth", "type": "quantitative", "axis": null}, "order": {"field": "depth", "type": "quantitative"}}},
        {"data": {"name": "ostracod"}, "mark": {"type": "circle", "fill": "#d0692b", "stroke": "#ffffff", "strokeWidth": 2.2, "size": 34, "opacity": 1},
         "encoding": {"x": {"field": "euryhaline", "type": "quantitative", "axis": null}, "y": {"field": "depth", "type": "quantitative", "axis": null}}},
        {"data": {"values": [{}]}, "mark": {"type": "text", "text": "Euryhaline\nspecies", "lineBreak": "\n", "lineHeight": 16, "angle": 300, "align": "left", "baseline": "alphabetic", "fontSize": 16, "color": "#222"},
         "encoding": {"x": {"datum": 21, "axis": null}, "y": {"datum": -2.3, "axis": null}}},
        {"data": {"values": [{}]}, "mark": {"type": "text", "text": "%", "align": "center", "baseline": "middle", "fontSize": 15, "color": "#333"},
         "encoding": {"x": {"datum": 39, "axis": null}, "y": {"datum": 77.7, "axis": null}}},
        {"data": {"values": [{}]}, "mark": {"type": "rule", "color": "#555", "strokeWidth": 1.2},
         "encoding": {"x": {"datum": 136, "axis": null}, "y": {"datum": 0.1, "axis": null}, "y2": {"datum": 42.7}}},
        {"data": {"values": [{}]}, "mark": {"type": "rule", "color": "#555", "strokeWidth": 1.2},
         "encoding": {"x": {"datum": 113, "axis": null}, "x2": {"datum": 136}, "y": {"datum": 0.1, "axis": null}}},
        {"data": {"values": [{}]}, "mark": {"type": "rule", "color": "#555", "strokeWidth": 1.2},
         "encoding": {"x": {"datum": 113, "axis": null}, "x2": {"datum": 136}, "y": {"datum": 42.7, "axis": null}}},
        {"data": {"values": [{}]}, "mark": {"type": "text", "text": "Unit I", "align": "center", "baseline": "middle", "fontSize": 18, "color": "#333"},
         "encoding": {"x": {"datum": 172.8, "axis": null}, "y": {"datum": 20.8, "axis": null}}},
        {"data": {"values": [{}]}, "mark": {"type": "text", "text": "Unit II\nDominated by\neuryhaline species", "lineBreak": "\n", "lineHeight": 15.5, "align": "center", "baseline": "middle", "fontSize": 15.5, "fontWeight": "bold", "color": "#111"},
         "encoding": {"x": {"datum": 138, "axis": null}, "y": {"datum": 45.7, "axis": null}}},
        {"data": {"values": [{}]}, "mark": {"type": "text", "text": "Unit III\nAnthropogenic paved\nlayer (terra rossa)", "lineBreak": "\n", "lineHeight": 15.5, "align": "center", "baseline": "middle", "fontSize": 15.5, "fontWeight": "bold", "color": "#111"},
         "encoding": {"x": {"datum": 135, "axis": null}, "y": {"datum": 55.6, "axis": null}}}
      ]
    }
  ]
}
